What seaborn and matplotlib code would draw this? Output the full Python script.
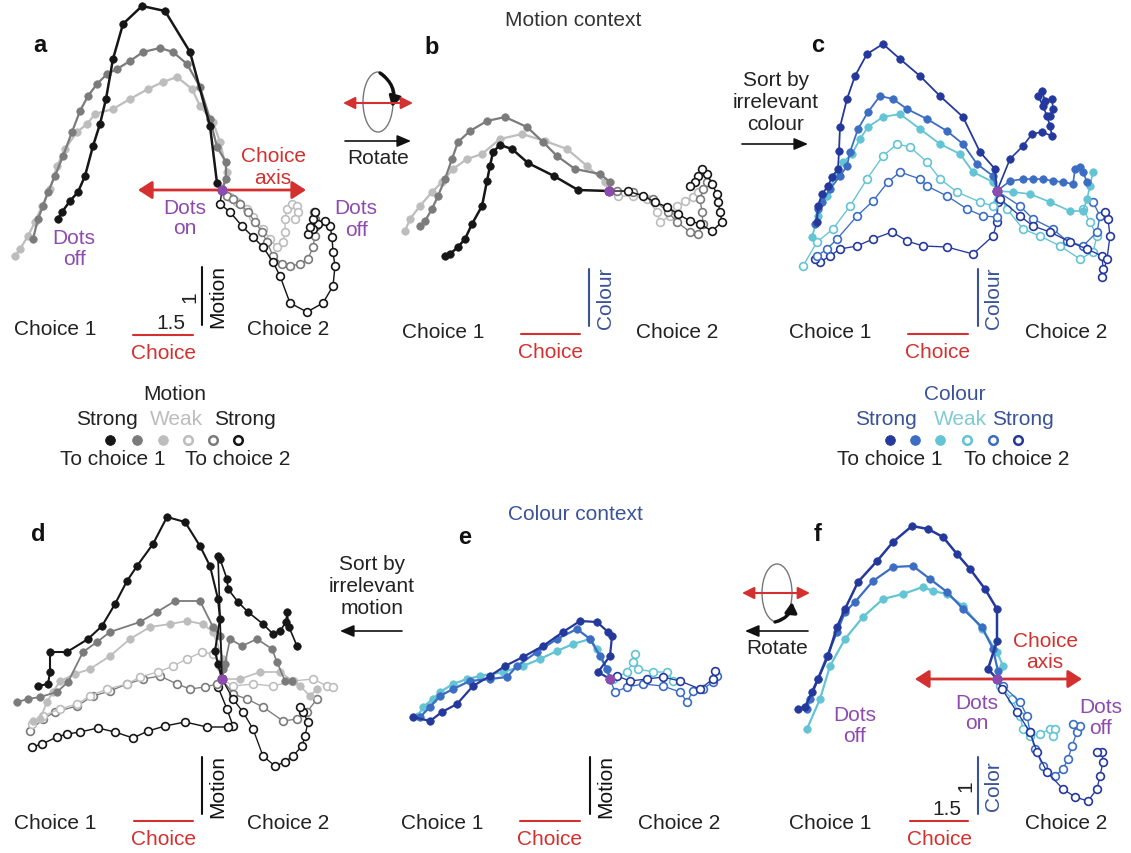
import matplotlib
matplotlib.use("Agg")
import matplotlib.pyplot as plt
import numpy as np
import pandas as pd
import seaborn as sns
from matplotlib.patches import Ellipse, FancyArrowPatch

# ---------------- data: projections (offset from "dots on", a.u.) ----------------
# Panel a  (motion context, sorted by relevant motion)
a_s1 = [(0,0),(-5,7),(-12,64),(-32,138),(-57,179),(-80,184),(-99,166),(-109,131),(-116,91),(-122,66),(-129,44),(-137,14),(-144,-2),(-152,-11),(-160,-22),(-164,-29)]
a_m1 = [(0,0),(4,11),(4,28),(-5,43),(-12,71),(-22,103),(-35,126),(-49,138),(-62,142),(-79,138),(-92,129),(-105,121),(-115,116),(-125,106),(-134,94),(-142,79),(-150,58),(-159,34),(-167,14),(-174,-2),(-179,-16),(-184,-29),(-189,-49)]
a_w1 = [(0,0),(5,18),(-2,48),(-9,68),(-22,84),(-30,101),(-45,113),(-59,108),(-74,101),(-92,91),(-109,81),(-127,76),(-135,66),(-145,58),(-157,41),(-165,24),(-172,1),(-180,-16),(-187,-32),(-194,-46),(-202,-59),(-207,-66)]
a_w2 = [(0,0),(8,-7),(15,-12),(25,-19),(31,-27),(41,-39),(48,-49),(55,-57),(61,-52),(63,-42),(63,-29),(65,-19),(70,-14),(75,-16),(76,-22),(73,-29)]
a_m2 = [(0,0),(5,-6),(11,-9),(18,-14),(26,-22),(33,-32),(40,-42),(45,-52),(51,-66),(60,-74),(68,-76),(78,-74),(86,-69),(91,-57),(93,-46),(94,-36),(93,-29),(92,-22)]
a_s2 = [(0,0),(-2,-14),(8,-22),(20,-36),(31,-47),(41,-57),(51,-72),(58,-86),(68,-113),(85,-122),(101,-113),(111,-96),(113,-76),(111,-62),(110,-47),(108,-36),(103,-31),(96,-34),(91,-39),(86,-44),(88,-37),(91,-29),(93,-22)]

# Panel b  (motion context, rotated)
b_s1 = [(0,0),(-31,1),(-55,15),(-81,28),(-97,42),(-109,46),(-116,39),(-119,25),(-122,10),(-127,-15),(-137,-33),(-144,-48),(-151,-56),(-159,-63),(-164,-65)]
b_m1 = [(0,0),(1,9),(-9,17),(-34,22),(-52,35),(-66,49),(-82,64),(-104,74),(-122,70),(-139,60),(-151,49),(-157,32),(-164,12),(-171,-5),(-177,-18),(-184,-30),(-189,-35)]
b_w1 = [(0,0),(-4,9),(-22,25),(-42,42),(-64,50),(-87,57),(-109,52),(-127,37),(-142,32),(-156,22),(-167,9),(-177,-1),(-189,-15),(-199,-28),(-204,-40)]
b_w2 = [(0,0),(9,-5),(24,-5),(38,-8),(48,-21),(51,-31),(61,-25),(68,-15),(76,-10),(84,-6),(89,-1)]
b_m2 = [(0,0),(8,0),(24,-1),(44,-8),(59,-21),(68,-31),(81,-41),(89,-43),(94,-33),(93,-21),(91,-8),(94,2),(98,9)]
b_s2 = [(0,0),(19,0),(34,-5),(46,-11),(58,-16),(69,-23),(81,-30),(91,-33),(103,-40),(113,-31),(111,-21),(109,-11),(108,-3),(103,7),(98,17),(93,22),(89,15),(86,9),(81,5)]

# Panel c  (motion context, sorted by irrelevant colour)
c_s1_left = [(0,0),(-2,22),(-17,39),(-34,74),(-57,95),(-77,115),(-97,132),(-114,147),(-130,137),(-142,115),(-150,92),(-157,64),(-158,40),(-159,22),(-165,14),(-169,5),(-175,-3),(-179,-15),(-180,-31)]
c_m1_left = [(0,0),(-4,15),(-20,27),(-34,47),(-50,60),(-70,72),(-90,82),(-104,92),(-117,95),(-129,79),(-139,62),(-147,39),(-150,25),(-157,15),(-167,2),(-175,-11),(-179,-18),(-182,-33)]
c_w1_left = [(0,0),(-4,9),(-24,19),(-37,37),(-57,47),(-77,62),(-97,77),(-114,74),(-129,64),(-137,52),(-145,37),(-154,29),(-162,15),(-170,-5),(-179,-25),(-185,-46)]
c_w2_left = [(0,0),(-4,-15),(-17,-11),(-40,-1),(-57,12),(-70,29),(-87,44),(-100,47),(-114,35),(-130,12),(-147,-15),(-164,-38),(-180,-51),(-194,-75)]
c_m2_left = [(0,0),(0,-26),(-14,-25),(-30,-18),(-50,-5),(-70,5),(-77,12),(-97,19),(-109,9),(-124,-10),(-140,-25),(-160,-48),(-170,-58),(-180,-65)]
c_s2_left = [(0,0),(1,-11),(0,-31),(-4,-45),(-24,-63),(-50,-56),(-74,-55),(-90,-50),(-105,-41),(-124,-48),(-140,-55),(-157,-58),(-167,-65),(-177,-71),(-182,-68)]
c_s1_right = [(0,0),(13,32),(26,45),(35,57),(45,59),(55,55),(53,65),(50,75),(46,85),(41,95),(45,100),(48,90),(55,92),(56,82),(53,75)]
c_m1_right = [(0,0),(13,10),(26,12),(36,12),(46,12),(56,10),(66,9),(76,7),(78,22),(83,24),(86,19),(90,9)]
c_w1_right = [(0,0),(16,-1),(33,-3),(53,-11),(73,-20),(86,-20),(90,-8),(93,5),(96,19)]
c_w2_right = [(0,0),(10,-18),(26,-38),(43,-45),(63,-55),(83,-68),(96,-61),(100,-45),(93,-31),(86,-18)]
c_m2_right = [(0,0),(23,-15),(36,-28),(56,-38),(70,-50),(86,-55),(100,-41),(103,-25),(96,-11)]
c_s2_right = [(0,0),(3,-8),(23,-25),(36,-35),(53,-41),(73,-51),(90,-58),(105,-65),(106,-78),(105,-86),(110,-68),(113,-45),(111,-28),(108,-21)]

# Panel d  (colour context, sorted by irrelevant motion)
d_s1_left = [(0,0),(-4,15),(-7,28),(-2,60),(-4,80),(-12,113),(-22,133),(-37,157),(-55,162),(-69,135),(-85,113),(-95,98),(-107,75),(-120,53),(-134,40),(-155,27),(-172,27),(-172,7),(-174,-5),(-184,-7)]
d_m1_left = [(0,0),(1,10),(-2,43),(-9,52),(-22,78),(-47,78),(-65,67),(-82,57),(-112,47),(-125,37),(-139,27),(-154,-3),(-165,-13),(-182,-18),(-194,-20),(-205,-23)]
d_w1_left = [(0,0),(1,20),(-9,47),(-19,55),(-35,58),(-52,55),(-72,52),(-92,40),(-112,23),(-132,10),(-147,5),(-162,-2),(-169,-13),(-175,-23),(-182,-40),(-189,-42)]
d_w2_left = [(0,0),(-2,13),(-9,25),(-20,27),(-35,20),(-49,13),(-64,7),(-82,2),(-95,-5),(-115,-10),(-132,-17),(-145,-25),(-162,-30),(-179,-37),(-190,-45)]
d_m2_left = [(0,0),(-5,-5),(-17,-8),(-32,-10),(-45,-5),(-62,3),(-79,0),(-95,-5),(-112,-12),(-129,-17),(-145,-27),(-167,-33),(-179,-40),(-192,-52)]
d_s2_left = [(0,0),(-4,-8),(5,-30),(11,-47),(6,-48),(-15,-48),(-37,-43),(-57,-47),(-74,-52),(-89,-59),(-107,-53),(-124,-49),(-142,-53),(-155,-55),(-165,-58),(-180,-65),(-190,-68)]
d_s1_right = [(0,0),(-4,123),(-2,120),(5,100),(6,90),(16,77),(26,67),(41,55),(51,45),(58,48),(64,57),(65,67),(67,52),(75,33)]
d_m1_right = [(0,0),(3,15),(8,40),(20,33),(35,40),(50,30),(55,17),(63,-2),(70,-2)]
d_w1_right = [(0,0),(18,0),(38,7),(58,7),(78,-7),(88,-17),(95,-10)]
d_w2_right = [(0,0),(11,-7),(31,-5),(51,-7),(71,-2),(91,0),(105,-7),(111,-8)]
d_m2_right = [(0,0),(11,-15),(25,-20),(41,-28),(61,-42),(75,-40),(85,-33),(95,-20)]
d_s2_right = [(0,0),(11,-20),(21,-33),(31,-50),(41,-77),(53,-87),(63,-83),(71,-77),(80,-67),(83,-57),(86,-43),(81,-33),(78,-28)]

# Panel e  (colour context, rotated)
e_s1 = [(0,0),(-12,7),(0,23),(2,43),(-2,47),(-13,57),(-30,58),(-47,47),(-67,33),(-87,22),(-105,13),(-120,3),(-137,-7),(-153,-25),(-168,-33),(-180,-42),(-197,-38)]
e_m1 = [(0,0),(-3,10),(-10,23),(-20,40),(-33,50),(-53,40),(-73,27),(-93,13),(-103,2),(-120,0),(-140,-2),(-157,-10),(-170,-17),(-180,-28),(-190,-38)]
e_w1 = [(0,0),(-3,10),(-13,30),(-20,40),(-37,35),(-53,28),(-70,20),(-87,13),(-107,7),(-130,3),(-143,0),(-157,-5),(-170,-13),(-177,-20),(-187,-28),(-192,-37)]
e_w2 = [(0,0),(3,0),(17,7),(23,17),(25,25),(28,10),(43,7),(57,7),(63,-2)]
e_m2 = [(0,0),(5,-13),(17,-8),(33,-5),(53,-7),(70,-13),(77,-23),(83,-12),(93,-10),(103,-3),(107,3)]
e_s2 = [(0,0),(7,3),(20,-2),(37,0),(53,2),(70,-2),(90,-10),(103,0),(105,8)]

# Panel f  (colour context, sorted by relevant colour)
f_s1 = [(0,0),(-9,10),(0,38),(0,70),(-12,90),(-27,110),(-40,125),(-54,142),(-69,150),(-85,153),(-104,137),(-120,118),(-139,97),(-152,70),(-160,52),(-169,23),(-179,0),(-185,-13),(-192,-28),(-199,-30)]
f_m1 = [(0,0),(1,8),(-4,30),(-15,52),(-34,70),(-50,87),(-67,100),(-84,113),(-104,112),(-124,98),(-142,77),(-152,67),(-160,47),(-170,23),(-179,0),(-187,-20),(-190,-30)]
f_w1 = [(0,0),(6,13),(0,27),(-15,50),(-34,73),(-50,85),(-64,88),(-74,92),(-94,85),(-114,80),(-134,62),(-152,40),(-167,13),(-177,-20),(-190,-50)]
f_w2 = [(0,0),(3,-7),(15,-20),(23,-37),(26,-50),(33,-57),(43,-55),(53,-50),(58,-50),(56,-57)]
f_m2 = [(0,0),(6,-7),(23,-23),(30,-37),(33,-53),(38,-70),(46,-87),(58,-97),(66,-90),(71,-80),(75,-67),(80,-53),(83,-47),(76,-45)]
f_s2 = [(0,0),(5,-10),(20,-33),(33,-53),(40,-73),(50,-93),(66,-110),(78,-118),(91,-122),(100,-110),(103,-97),(106,-83),(105,-73),(100,-73)]

legend_levels = ["Strong", "Weak", "Strong"]
legend_dirs = ["To choice 1", "To choice 2"]

# ---------------- style ----------------
BLACK, DGRAY, LGRAY = "#161616", "#7b7b7b", "#bdbdbd"
NAVY, MBLUE, CYAN = "#24399b", "#3b6dc3", "#62c4d4"
RED, PURPLE = "#d3302f", "#8e4aae"
CTX_BLUE = "#3a5298"

sns.set_theme(style="white")
plt.rcParams['font.family'] = ['Liberation Sans', 'DejaVu Sans']

W, H = 1131, 854
fig = plt.figure(figsize=(W / 100, H / 100), dpi=100)
ov = fig.add_axes([0, 0, 1, 1])
ov.set_xlim(0, W); ov.set_ylim(H, 0); ov.axis('off')

FS = 15


def txt(x, y, s, color="#222222", size=FS, **kw):
    ov.text(x, y, s, color=color, fontsize=size, ha=kw.pop('ha', 'center'),
            va=kw.pop('va', 'center'), **kw)


def traj(ax, pts, color, filled, lw=1.3):
    df = pd.DataFrame(pts, columns=["choice", "proj"])
    if filled:
        sns.lineplot(data=df, x="choice", y="proj", sort=False, estimator=None, ax=ax,
                     color=color, linewidth=lw, marker='o', markersize=5.4,
                     markerfacecolor=color, markeredgecolor=color, markeredgewidth=0.5)
    else:
        sns.lineplot(data=df, x="choice", y="proj", sort=False, estimator=None, ax=ax,
                     color=color, linewidth=lw * 0.8, marker='o', markersize=5.6,
                     markerfacecolor='white', markeredgecolor=color, markeredgewidth=1.2)


def panel(cx, cy, items):
    ax = fig.add_axes([0, 0, 1, 1])
    ax.patch.set_alpha(0)
    for pts, col, filled, lw in items:
        traj(ax, pts, col, filled, lw)
    sns.scatterplot(x=[0], y=[0], ax=ax, color=PURPLE, s=45, edgecolor=PURPLE, zorder=10)
    ax.set_xlim(-cx, W - cx); ax.set_ylim(cy - H, cy)
    ax.axis('off')
    return ax


panel(222, 191, [(a_w2, LGRAY, False, 1.2), (a_m2, DGRAY, False, 1.2), (a_s2, BLACK, False, 1.3),
                 (a_w1, LGRAY, True, 1.6), (a_m1, DGRAY, True, 1.6), (a_s1, BLACK, True, 1.8)])
panel(609, 192, [(b_w2, LGRAY, False, 1.2), (b_m2, DGRAY, False, 1.2), (b_s2, BLACK, False, 1.3),
                 (b_w1, LGRAY, True, 1.6), (b_m1, DGRAY, True, 1.6), (b_s1, BLACK, True, 1.8)])
panel(997, 192, [(c_s2_left, NAVY, False, 1.2), (c_m2_left, MBLUE, False, 1.2), (c_w2_left, CYAN, False, 1.2),
                 (c_w1_left, CYAN, True, 1.3), (c_m1_left, MBLUE, True, 1.3), (c_s1_left, NAVY, True, 1.3),
                 (c_w2_right, CYAN, False, 1.2), (c_m2_right, MBLUE, False, 1.2), (c_s2_right, NAVY, False, 1.2),
                 (c_w1_right, CYAN, True, 1.2), (c_m1_right, MBLUE, True, 1.2), (c_s1_right, NAVY, True, 1.2)])
panel(222, 680, [(d_s2_left, BLACK, False, 1.3), (d_m2_left, DGRAY, False, 1.2), (d_w2_left, LGRAY, False, 1.2),
                 (d_w1_left, LGRAY, True, 1.3), (d_m1_left, DGRAY, True, 1.3), (d_s1_left, BLACK, True, 1.5),
                 (d_w2_right, LGRAY, False, 1.2), (d_m2_right, DGRAY, False, 1.2), (d_s2_right, BLACK, False, 1.2),
                 (d_w1_right, LGRAY, True, 1.2), (d_m1_right, DGRAY, True, 1.2), (d_s1_right, BLACK, True, 1.2)])
panel(610, 680, [(e_w2, CYAN, False, 1.2), (e_m2, MBLUE, False, 1.2), (e_s2, NAVY, False, 1.2),
                 (e_w1, CYAN, True, 1.6), (e_m1, MBLUE, True, 1.6), (e_s1, NAVY, True, 1.6)])
panel(997, 680, [(f_w2, CYAN, False, 1.2), (f_m2, MBLUE, False, 1.2), (f_s2, NAVY, False, 1.2),
                 (f_w1, CYAN, True, 1.6), (f_m1, MBLUE, True, 1.6), (f_s1, NAVY, True, 1.8)])

# ---------------- annotations ----------------
for lab, (x, y) in zip("abcdef", [(40, 46), (432, 48), (818, 46), (38, 535), (465, 538), (818, 535)]):
    txt(x, y, lab, color="#111111", size=17, weight="bold")

txt(573, 21, "Motion context", color="#333333")
txt(575, 515, "Colour context", color=CTX_BLUE)


def dbl_arrow(x0, x1, y, lw=2.0, hw=0.45, hl=0.7):
    ov.annotate("", xy=(x1, y), xytext=(x0, y),
                arrowprops=dict(arrowstyle=f"<|-|>,head_length={hl},head_width={hw}", color=RED, lw=lw,
                                shrinkA=0, shrinkB=0))


def plain_arrow(x0, x1, y):
    ov.annotate("", xy=(x1, y), xytext=(x0, y),
                arrowprops=dict(arrowstyle="-|>,head_length=0.7,head_width=0.3", color="#111111", lw=1.2,
                                shrinkA=0, shrinkB=0))


# choice axes with labels
dbl_arrow(138, 306, 191)
txt(273, 156, "Choice", color=RED); txt(273, 178, "axis", color=RED)
dbl_arrow(915, 1082, 680)
txt(1045, 642, "Choice", color=RED); txt(1045, 663, "axis", color=RED)

# dots on / off
for (x, y) in [(185, 208), (977, 704)]:
    txt(x, y, "Dots", color=PURPLE); txt(x, y + 20, "on", color=PURPLE)
for (x, y) in [(74, 239), (356, 209), (855, 716), (1101, 708)]:
    txt(x, y, "Dots", color=PURPLE); txt(x, y + 21, "off", color=PURPLE)


# scale bars & choice labels
def bottom_labels(xc1, xc2, y, rx0, rx1, ry, vx, vy0, vy1, vcol, vlab, one=False):
    txt(xc1, y, "Choice 1"); txt(xc2, y, "Choice 2")
    ov.plot([rx0, rx1], [ry, ry], color=RED, lw=1.5)
    txt((rx0 + rx1) / 2, ry + 18, "Choice", color=RED)
    ov.plot([vx, vx], [vy0, vy1], color=vcol, lw=1.5)
    txt(vx + 16, (vy0 + vy1) / 2, vlab, color=vcol, rotation=90)
    if one:
        txt((rx0 + rx1) / 2 + 8, ry - 12, "1.5")
        txt(vx - 12, (vy0 + vy1) / 2, "1", rotation=90)


bottom_labels(55, 288, 330, 133, 193, 336, 202, 268, 326, "#111111", "Motion", one=True)
bottom_labels(443, 677, 333, 521, 580, 335, 589, 270, 327, CTX_BLUE, "Colour")
bottom_labels(830, 1066, 333, 908, 968, 335, 978, 270, 327, CTX_BLUE, "Colour")
bottom_labels(55, 288, 824, 134, 193, 822, 202, 758, 815, "#111111", "Motion")
bottom_labels(442, 679, 824, 520, 580, 822, 590, 758, 815, "#111111", "Motion")
bottom_labels(830, 1066, 824, 910, 968, 822, 978, 758, 815, CTX_BLUE, "Color", one=True)

# rotation icons
# top (a -> b): arc along right edge from top, pointing down
ov.add_patch(Ellipse((378, 103), 30, 60, fill=False, edgecolor="#777777", lw=1.0))
dbl_arrow(343, 413, 104, lw=1.5, hw=0.3, hl=0.6)
ov.add_patch(FancyArrowPatch((380, 74), (392, 108), connectionstyle="arc3,rad=-0.35",
                             arrowstyle="-|>,head_length=6,head_width=3.5", color="#111111", lw=2.4,
                             shrinkA=0, shrinkB=0))
# bottom (f -> e): arc from bottom, pointing up on right edge
ov.add_patch(Ellipse((777, 594), 30, 58, fill=False, edgecolor="#777777", lw=1.0))
dbl_arrow(742, 810, 594, lw=1.5, hw=0.3, hl=0.6)
ov.add_patch(FancyArrowPatch((775, 623), (792, 603), connectionstyle="arc3,rad=0.35",
                             arrowstyle="-|>,head_length=6,head_width=3.5", color="#111111", lw=2.4,
                             shrinkA=0, shrinkB=0))
plain_arrow(345, 411, 142); txt(378, 158, "Rotate")
plain_arrow(808, 745, 632); txt(777, 649, "Rotate")

# sort-by labels
for i, s in enumerate(["Sort by", "irrelevant", "colour"]):
    txt(776, 80 + 22 * i, s)
plain_arrow(742, 808, 145)
for i, s in enumerate(["Sort by", "irrelevant", "motion"]):
    txt(372, 565 + 22 * i, s)
plain_arrow(402, 340, 632)

# legends
def legend(xc, title, title_col, level_cols, dot_cols, xs_levels, xs_dots, xs_dirs):
    txt(xc, 395, title, color=title_col)
    for s, c, x in zip(legend_levels, level_cols, xs_levels):
        txt(x, 420, s, color=c)
    for i, (c, x) in enumerate(zip(dot_cols, xs_dots)):
        filled = i < 3
        ov.plot([x], [441], marker='o', ms=7 if filled else 6.2,
                mfc=c if filled else 'white', mec=c, mew=0.6 if filled else 1.8, ls='none')
    for s, x in zip(legend_dirs, xs_dirs):
        txt(x, 460, s)


legend(175, "Motion", "#222222", ["#222222", "#bdbdbd", "#222222"],
       [BLACK, DGRAY, LGRAY, LGRAY, DGRAY, BLACK],
       [107, 176, 245], [110, 137, 163, 188, 213, 238], [113, 238])
legend(955, "Colour", CTX_BLUE, [CTX_BLUE, "#80cbd6", CTX_BLUE],
       [NAVY, MBLUE, CYAN, CYAN, MBLUE, NAVY],
       [886, 960, 1023], [890, 915, 940, 967, 993, 1018], [890, 1017])

fig.savefig("out.png", dpi=100)
